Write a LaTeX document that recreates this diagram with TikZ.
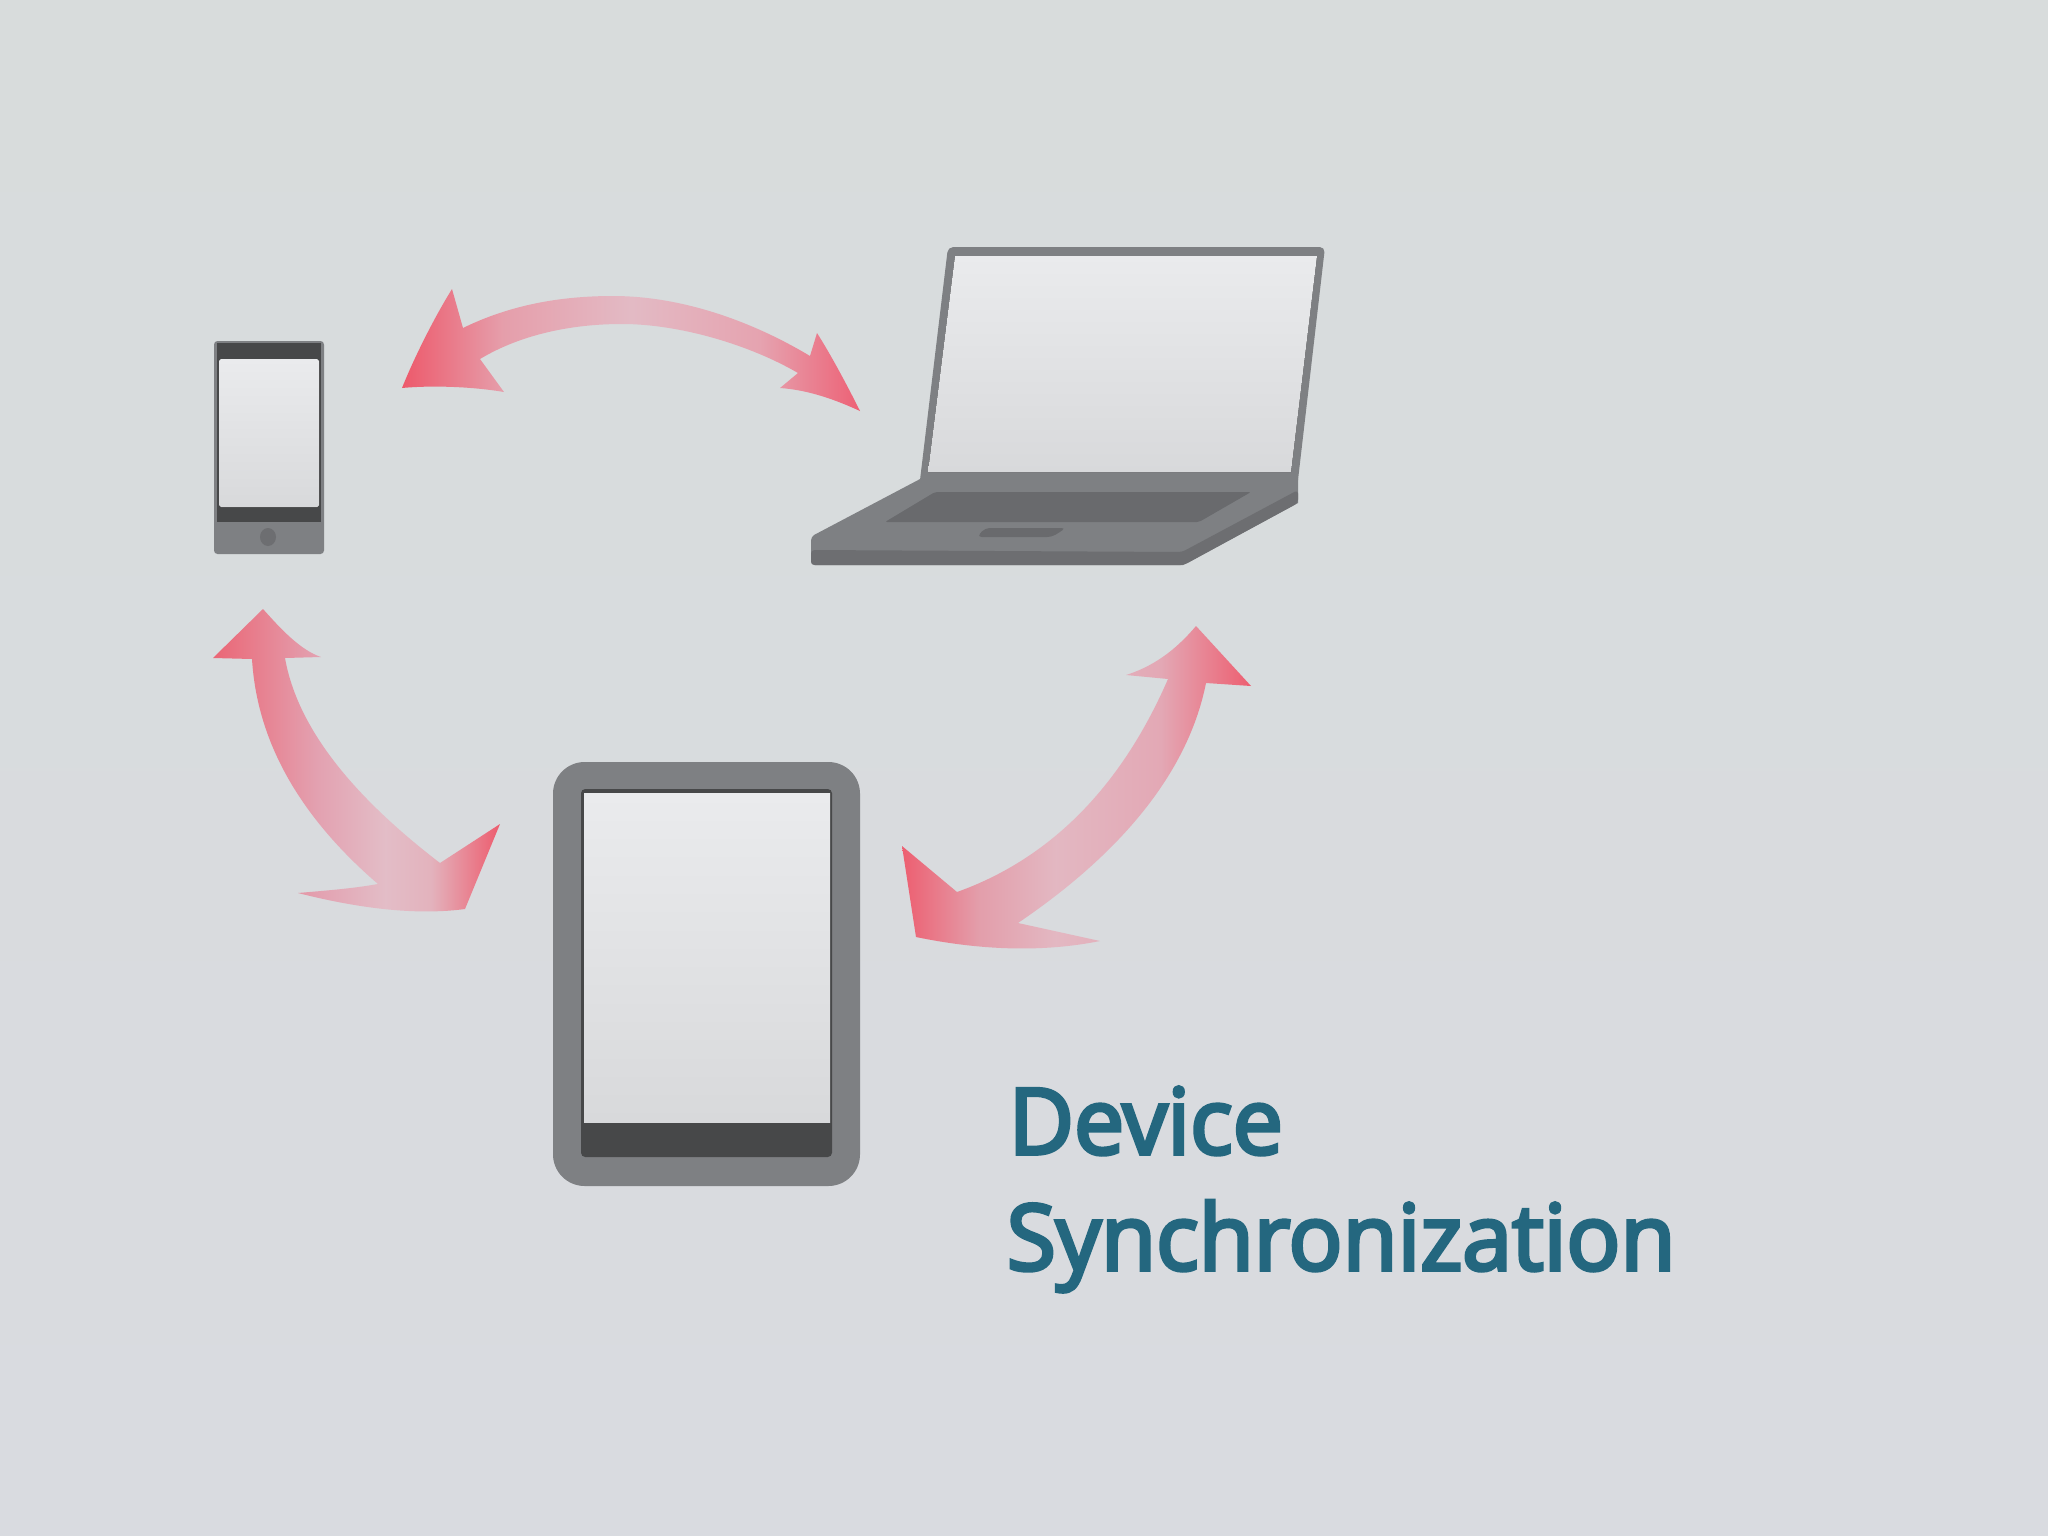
\documentclass[tikz,border=0pt]{standalone}
\usepackage{fontspec}
\setmainfont{Carlito}
\newfontfamily\titlefont[FakeStretch=0.98,FakeBold=4,Ligatures=NoCommon]{Open Sans}
\definecolor{bgtop}{HTML}{D8DCDC}
\definecolor{bgbot}{HTML}{D9DBE0}
\definecolor{body}{HTML}{7E8083}
\definecolor{bodydk}{HTML}{6D6E71}
\definecolor{keys}{HTML}{696A6D}
\definecolor{bezel}{HTML}{474849}
\definecolor{scrtop}{HTML}{EAEBED}
\definecolor{scrbot}{HTML}{D8D9DB}
\definecolor{titlecol}{HTML}{24677F}
\pgfdeclarehorizontalshading{arrowtop}{100bp}{
  rgb(0bp)=(0.93,0.35,0.42); rgb(25bp)=(0.93,0.35,0.42);
  rgb(36bp)=(0.90,0.62,0.67);
  rgb(50bp)=(0.89,0.73,0.77);
  rgb(64bp)=(0.90,0.64,0.69);
  rgb(75bp)=(0.93,0.38,0.46); rgb(100bp)=(0.93,0.38,0.46)}
\pgfdeclarehorizontalshading{arrowleft}{100bp}{
  rgb(0bp)=(0.92,0.40,0.46); rgb(25bp)=(0.92,0.40,0.46);
  rgb(43bp)=(0.89,0.63,0.69);
  rgb(55bp)=(0.89,0.74,0.78);
  rgb(63bp)=(0.89,0.70,0.74);
  rgb(75bp)=(0.93,0.36,0.43); rgb(100bp)=(0.93,0.36,0.43)}
\pgfdeclarehorizontalshading{arrowright}{100bp}{
  rgb(0bp)=(0.93,0.37,0.44); rgb(25bp)=(0.93,0.37,0.44);
  rgb(36bp)=(0.89,0.62,0.67);
  rgb(47bp)=(0.89,0.72,0.76);
  rgb(62bp)=(0.89,0.66,0.71);
  rgb(75bp)=(0.93,0.37,0.44); rgb(100bp)=(0.93,0.37,0.44)}
\tikzset{
  screenfill/.style={top color=scrtop,bottom color=scrbot,draw=none},
  titletext/.style={anchor=base west,inner sep=0pt,text=titlecol,font=\titlefont\fontsize{26}{26}\selectfont},
}
\begin{document}
\begin{tikzpicture}[x=0.01cm,y=-0.01cm]
\path[use as bounding box,top color=bgtop,bottom color=bgbot] (0,0) rectangle (2048,1536);

% phone
\fill[body,rounded corners=1pt] (214,341) rectangle (324,554);
\fill[bezel] (217,343) rectangle (321,522);
\fill[screenfill,rounded corners=0.5pt] (219,359) rectangle (319,507);
\fill[bodydk] (268,537) ellipse (8 and 9);

% laptop lid
\fill[body] (920,480) [rounded corners=1.5pt] -- (948,247) -- (1325,247) [sharp corners] -- (1298,480) -- cycle;
\fill[screenfill] (928,472) -- (955,256) -- (1317,256) -- (1291,472) -- cycle;
% laptop base
\fill[body] (922,478) -- (814,535) [rounded corners=1pt] -- (811,537) -- (811,565) [sharp corners] -- (1183,565) -- (1298,503) -- (1298,478) -- cycle;
\fill[bodydk,rounded corners=1pt] (811,550) -- (811,565) -- (1184,565) -- (1298,503) -- (1298,490) -- (1182,552) -- cycle;
\fill[keys,rounded corners=0.6pt] (935,492) -- (1251,492) -- (1199,522) -- (885,522) -- cycle;
\fill[keys,rounded corners=1.3pt] (985,528) -- (1066,528) -- (1052,537) -- (977,537) -- cycle;

% tablet
\fill[body,rounded corners=9pt] (553,762) rectangle (860,1186);
\fill[bezel,rounded corners=1.2pt] (581,789) rectangle (832,1157);
\fill[screenfill] (584,793) rectangle (830,1122);

% arrows
\shade[shading=arrowtop]
  (463,328) .. controls (510,305) and (560,296) .. (613,296)
  .. controls (680,296) and (750,320) .. (810,356)
  -- (817,333) .. controls (831,355) and (847,385) .. (860,411)
  .. controls (836,400) and (809,390) .. (780,388)
  -- (798,373) .. controls (750,345) and (680,324) .. (622,324)
  .. controls (570,324) and (520,335) .. (480,359)
  -- (504,392) .. controls (475,387) and (434,385) .. (402,388)
  .. controls (414,358) and (434,318) .. (452,289) -- cycle;
\shade[shading=arrowleft]
  (263,609) -- (213,658) -- (252,659)
  .. controls (257,741) and (299,816) .. (378,884)
  .. controls (350,889) and (320,891) .. (298,893)
  .. controls (365,910) and (420,915) .. (465,909)
  -- (500,824) -- (440,863)
  .. controls (350,794) and (297,726) .. (285,658)
  -- (321,657) .. controls (300,650) and (280,628) .. (263,609) -- cycle;
\shade[shading=arrowright]
  (1196,626) -- (1251,686) -- (1206,683)
  .. controls (1189,768) and (1127,849) .. (1018,923)
  -- (1100,941) .. controls (1045,952) and (984,951) .. (916,937)
  -- (902,846) -- (957,892)
  .. controls (1052,858) and (1122,785) .. (1168,679)
  -- (1126,675) .. controls (1158,665) and (1180,645) .. (1196,626) -- cycle;

% title
\node[titletext] (line1) at (1008,1154) {Device};
\node[titletext] (line2) at (1006,1270) {Synchronization};
\end{tikzpicture}
\end{document}
